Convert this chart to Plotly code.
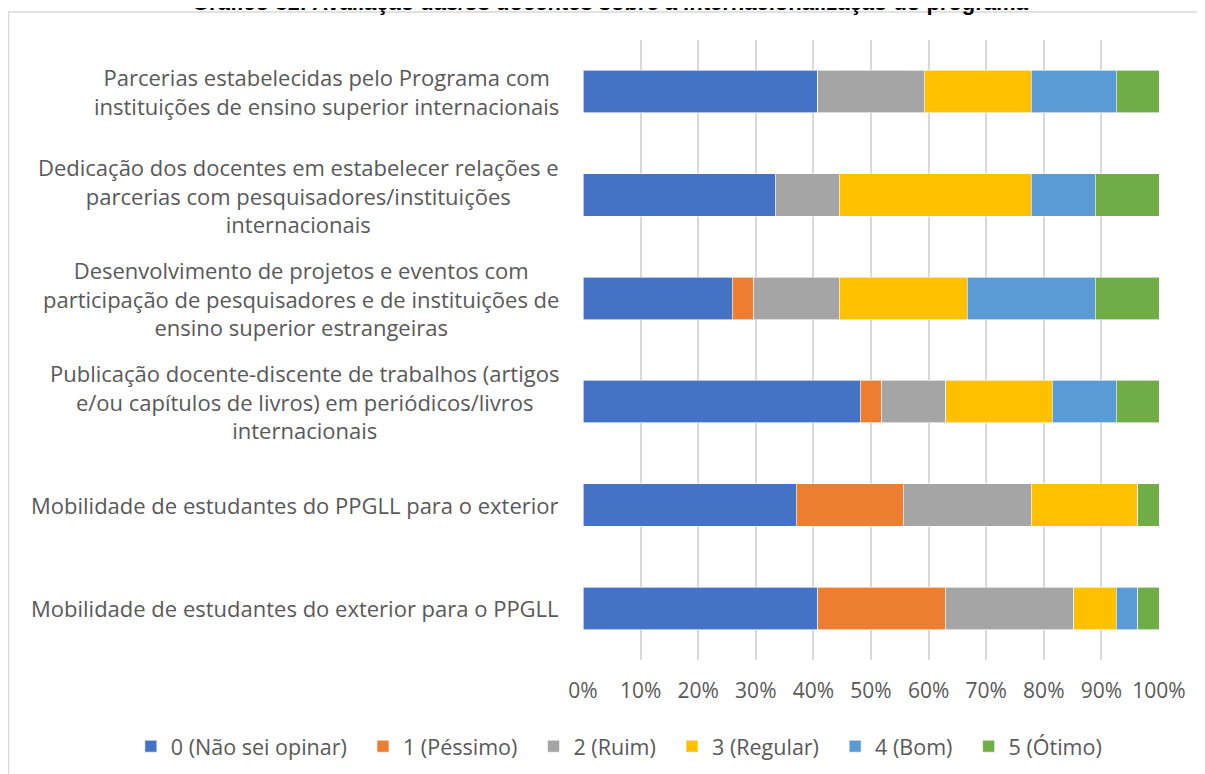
import plotly.graph_objects as go

# categories (top to bottom as shown)
categorias = [
    "Parcerias estabelecidas pelo Programa com<br>instituições de ensino superior internacionais",
    "Dedicação dos docentes em estabelecer relações e<br>parcerias com pesquisadores/instituições<br>internacionais",
    "Desenvolvimento de projetos e eventos com<br>participação de pesquisadores e de instituições de<br>ensino superior estrangeiras",
    "Publicação docente-discente de trabalhos (artigos<br>e/ou capítulos de livros) em periódicos/livros<br>internacionais",
    "Mobilidade de estudantes do PPGLL para o exterior",
    "Mobilidade de estudantes do exterior para o PPGLL",
]

# number of answers per rating (27 respondents)
nao_sei = [11, 9, 7, 13, 10, 11]
pessimo = [0, 0, 1, 1, 5, 6]
ruim = [5, 3, 4, 3, 6, 6]
regular = [5, 9, 6, 5, 5, 2]
bom = [4, 3, 6, 3, 0, 1]
otimo = [2, 3, 3, 2, 1, 1]

series = [
    ("0 (Não sei opinar)", nao_sei, "#4472C4"),
    ("1 (Péssimo)", pessimo, "#ED7D31"),
    ("2 (Ruim)", ruim, "#A5A5A5"),
    ("3 (Regular)", regular, "#FFC000"),
    ("4 (Bom)", bom, "#5B9BD5"),
    ("5 (Ótimo)", otimo, "#70AD47"),
]

ticks = [0, 10, 20, 30, 40, 50, 60, 70, 80, 90, 100]
tick_text = [f"{t}%" for t in ticks]

FONT = "Open Sans"
GREY = "#595959"

fig = go.Figure()
for nome, vals, cor in series:
    fig.add_trace(go.Bar(
        y=categorias,
        x=vals,
        name=nome + "&nbsp;&nbsp;",  # a bit more room between legend items
        hovertemplate=nome + ": %{x}<extra></extra>",
        orientation="h",
        marker=dict(color=cor, line=dict(color="white", width=0.6)),
    ))

# category labels as centred annotations (like the spreadsheet chart)
for c in categorias:
    fig.add_annotation(
        x=0, xref="paper", y=c, yref="y",
        text=c, showarrow=False, xanchor="right", align="center",
        xshift=-22, font=dict(family=FONT, size=22, color=GREY),
    )

fig.add_annotation(
    x=0.047, xref="paper", y=1.0597, yref="paper",
    text="<b>Gráfico 31: Avaliação das/os docentes sobre a internacionalização do programa</b>",
    showarrow=False, xanchor="center", yanchor="middle",
    font=dict(family="Liberation Sans", size=22, color="#000000"),
)

# outer chart frame
fig.add_shape(
    type="rect", xref="paper", yref="paper",
    x0=-0.9974, x1=1.12, y0=-0.2, y1=1.045,
    line=dict(color="#D9D9D9", width=1.5), layer="below",
)

# page body adds an 8px offset, so margins are shifted to compensate
fig.update_layout(
    width=1205, height=774,
    barmode="stack", barnorm="percent", bargap=0.59,
    plot_bgcolor="white", paper_bgcolor="white",
    margin=dict(l=575, r=54, t=32, b=122, autoexpand=False),
    font=dict(family=FONT, size=21, color=GREY),
    showlegend=True,
    legend=dict(
        orientation="h", x=-0.785, xanchor="left",
        y=-0.106, yanchor="top",
        font=dict(family=FONT, size=21.5, color=GREY),
        traceorder="normal", itemwidth=30,
    ),
    xaxis=dict(
        range=[0, 100], tickmode="array", tickvals=ticks, ticktext=tick_text,
        showgrid=True, gridcolor="#D9D9D9", gridwidth=1.5,
        zeroline=False, showline=False, ticklabelstandoff=16,
        tickfont=dict(family=FONT, size=21, color=GREY),
    ),
    yaxis=dict(
        autorange="reversed", showticklabels=False, showgrid=False,
        zeroline=False, showline=False,
    ),
)

fig.write_html("out.html")
